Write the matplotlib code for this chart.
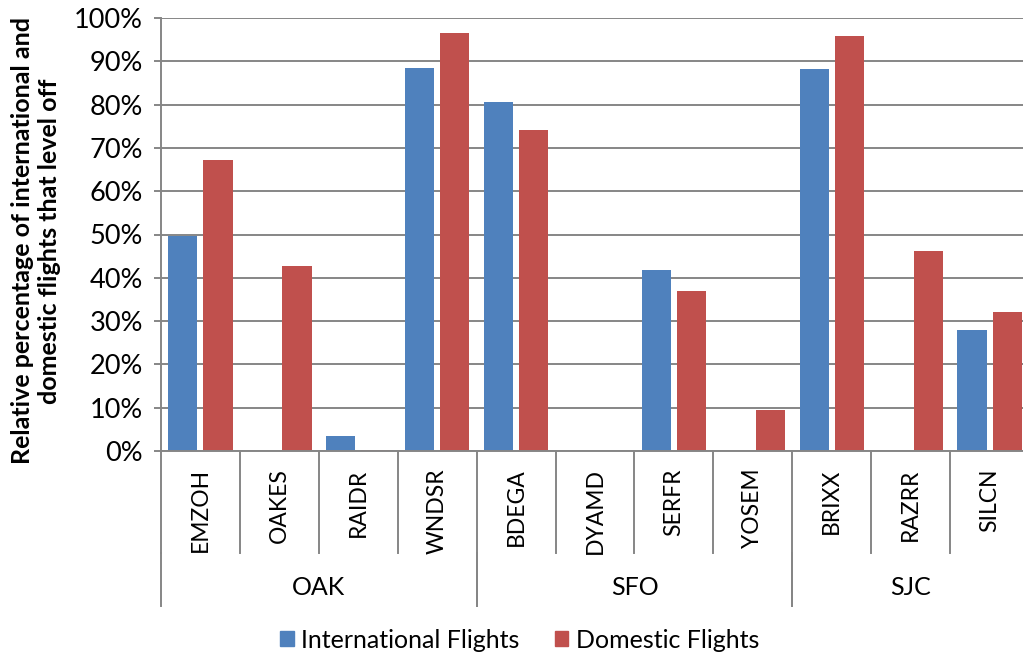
import matplotlib.pyplot as plt
import numpy as np
from matplotlib.patches import Patch

plt.rcParams['font.family'] = ['Lato', 'DejaVu Sans']

fixes = ['EMZOH', 'OAKES', 'RAIDR', 'WNDSR', 'BDEGA', 'DYAMD', 'SERFR', 'YOSEM', 'BRIXX', 'RAZRR', 'SILCN']
airports = ['OAK', 'SFO', 'SJC']
group_sizes = [4, 4, 3]
intl = [49.7, 0, 3.4, 88.4, 80.7, 0, 41.7, 0, 88.3, 0, 28.0]
dom = [67.1, 42.7, 0.2, 96.6, 74.1, 0, 36.9, 9.5, 95.9, 46.1, 32.1]

blue = '#4F81BD'
red = '#C0504D'
gray = '#868686'
fs = 18

fig = plt.figure(figsize=(10.23, 6.57), dpi=100)
ax = fig.add_axes([161/1023, 1-451/657, 868/1023, 433/657])

x = np.arange(len(fixes))
w = 0.37
ax.bar(x - 0.223, np.array(intl)/100, w, color=blue, zorder=3)
ax.bar(x + 0.223, np.array(dom)/100, w, color=red, zorder=3)

ax.set_xlim(-0.5, len(fixes) - 0.5)
ax.set_ylim(0, 1)
ax.set_yticks(np.arange(0, 1.01, 0.1))
ax.set_yticklabels(['%d%%' % v for v in range(0, 101, 10)], fontsize=19.5)
ax.yaxis.grid(True, color=gray, linewidth=1.4, zorder=0)
ax.tick_params(axis='y', direction='out', length=5, width=1.4, color=gray, pad=8)
ax.set_xticks([])
for s in ['top', 'right']:
    ax.spines[s].set_visible(False)
for s in ['left', 'bottom']:
    ax.spines[s].set_color(gray)
    ax.spines[s].set_linewidth(1.4)
    ax.spines[s].set_zorder(4)

fig.text(36/1023, 1-241/657, 'Relative percentage of international and\ndomestic flights that level off',
         rotation=90, ha='center', va='center', multialignment='center',
         fontsize=18, fontweight='bold', linespacing=1.25)

tr = ax.get_xaxis_transform()
# fix separators and labels
for b in np.arange(-0.5, len(fixes), 1.0):
    ax.plot([b, b], [0, -0.236], color=gray, lw=1.4, transform=tr, clip_on=False)
for i, name in enumerate(fixes):
    ax.text(i, -0.04, name, rotation=90, ha='center', va='top', fontsize=16.5,
            transform=tr)

# airport groups
start = 0
for name, n in zip(airports, group_sizes):
    lo = start - 0.5
    hi = start + n - 0.5
    for b in [lo, hi]:
        ax.plot([b, b], [-0.236, -0.357], color=gray, lw=1.4, transform=tr, clip_on=False)
    ax.text((lo + hi)/2, -0.316, name, ha='center', va='center', fontsize=fs,
            transform=tr)
    start += n

handles = [Patch(color=blue, label='International Flights'),
           Patch(color=red, label='Domestic Flights')]
fig.legend(handles=handles, loc='center', bbox_to_anchor=(0.508, 1-640/657), ncol=2,
           frameon=False, fontsize=fs, handlelength=0.55, handleheight=0.55,
           handletextpad=0.3, columnspacing=1.4)

fig.savefig('out.png', dpi=100)
